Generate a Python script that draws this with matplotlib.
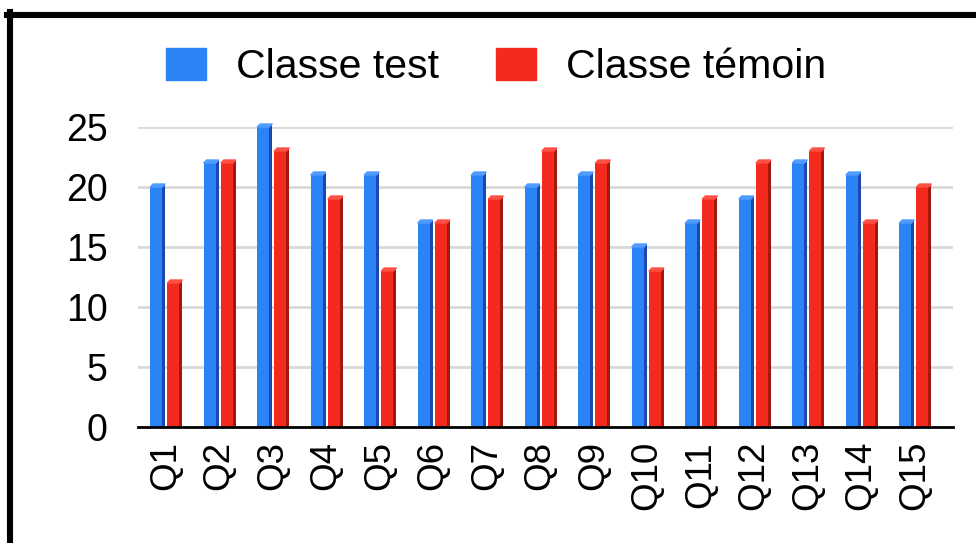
import numpy as np
import matplotlib.pyplot as plt
from matplotlib.patches import Polygon, Patch
from matplotlib.lines import Line2D

plt.rcParams['font.family'] = ['Liberation Sans', 'DejaVu Sans']

questions = ['Q1', 'Q2', 'Q3', 'Q4', 'Q5', 'Q6', 'Q7', 'Q8', 'Q9', 'Q10',
             'Q11', 'Q12', 'Q13', 'Q14', 'Q15']
classe_test = [20, 22, 25, 21, 21, 17, 21, 20, 21, 15, 17, 19, 22, 21, 17]
classe_temoin = [12, 22, 23, 19, 13, 17, 19, 23, 22, 13, 19, 22, 23, 17, 20]
yticks = [0, 5, 10, 15, 20, 25]

blue, blue_side, blue_top = '#2a84f5', '#1c46b2', '#4f9bff'
red, red_side, red_top = '#f52a1e', '#a5180f', '#ff5045'

fig = plt.figure(figsize=(9.76, 5.43), dpi=100)
ax = fig.add_axes([0.1414, 0.2136, 0.835, 0.5525])

x = np.arange(len(questions))
w = 0.225   # front face
d = 0.056   # side depth
dz = 0.25   # vertical depth in data units


def bars3d(xc, vals, c, cs, ct):
    ax.bar(xc, vals, width=w, color=c, zorder=3, clip_on=False)
    ax.bar(xc + w / 2 + d / 2, np.array(vals) + dz, width=d, bottom=0,
           color=cs, zorder=3, clip_on=False)
    for xi, v in zip(xc, vals):
        left = xi - w / 2
        right = xi + w / 2
        cap = Polygon([[left, v], [right, v], [right + d, v + dz], [left + d, v + dz]],
                      closed=True, color=ct, zorder=4, clip_on=False)
        ax.add_patch(cap)


bars3d(x - 0.17, classe_test, blue, blue_side, blue_top)
bars3d(x + 0.15, classe_temoin, red, red_side, red_top)

ax.set_xlim(-0.51, 14.72)
ax.set_ylim(0, 25)
ax.set_yticks(yticks)
ax.set_xticks(x)
ax.set_xticklabels(questions, rotation=90, fontsize=26.5)
ax.tick_params(axis='y', labelsize=27, length=0, pad=22)
ax.tick_params(axis='x', length=0, pad=10)
ax.grid(axis='y', color='#d9d9d9', linewidth=2, zorder=0)
for s in ['top', 'right', 'left']:
    ax.spines[s].set_visible(False)
ax.spines['bottom'].set_linewidth(2)
ax.spines['bottom'].set_zorder(5)

handles = [Patch(facecolor=blue, edgecolor=blue), Patch(facecolor=red, edgecolor=red)]
fig.legend(handles, ['Classe test', 'Classe témoin'], loc='center',
           bbox_to_anchor=(0.508, 0.876), ncol=2, frameon=False, fontsize=29.5,
           handlelength=0.98, handleheight=0.83, handletextpad=0.73,
           columnspacing=1.39)

# black frame around the picture
fig.add_artist(Line2D([10 / 976, 10 / 976], [0, 1 - 12 / 543], color='black',
                      linewidth=4.4, transform=fig.transFigure))
fig.add_artist(Line2D([7 / 976, 1], [1 - 15 / 543, 1 - 15 / 543], color='black',
                      linewidth=4.4, transform=fig.transFigure))

fig.savefig('out.png', dpi=100)
